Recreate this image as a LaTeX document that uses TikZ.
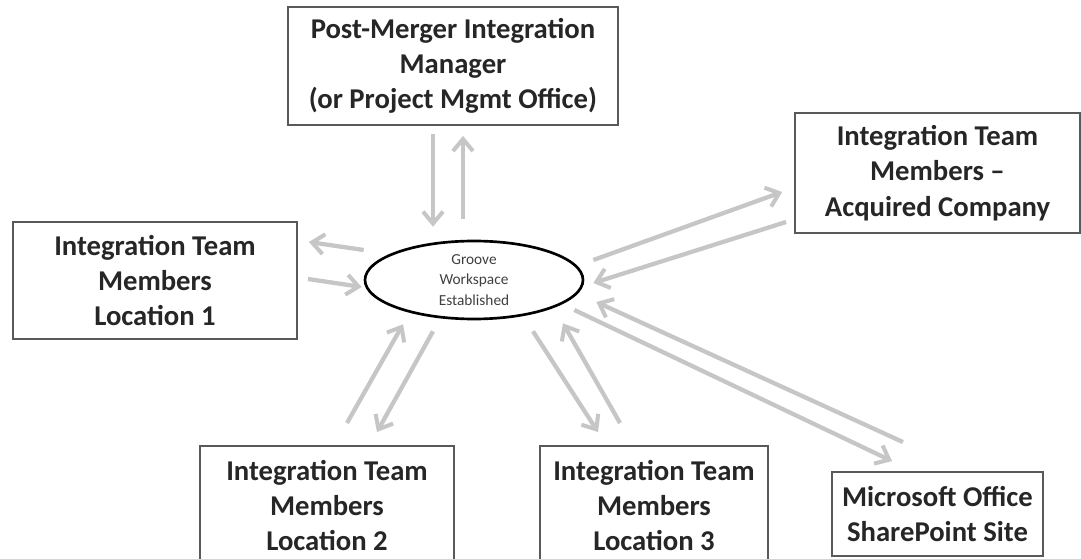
\documentclass[tikz,border=0pt]{standalone}
\usepackage{fontspec}
\setmainfont{Carlito}
\usetikzlibrary{arrows.meta,calc,shapes.geometric}
\begin{document}
\begin{tikzpicture}[x=0.75pt,y=-0.75pt,
  box/.style={draw=black!65, line width=1.4pt, align=center, font=\bfseries\fontsize{21.5}{26.5}\selectfont, text=black!85, inner sep=0pt},
  hub/.style={draw=black, line width=2pt, ellipse, inner sep=0pt, align=center, font=\fontsize{11.5}{15.5}\selectfont, text=black!75},
  flow/.style={draw=gray!45, line width=3.2pt, -{Straight Barb[length=9pt,width=15pt,line width=3pt]}}
]
\useasboundingbox (0,0) rectangle (1081,559);
\path[fill=white] (0,0) rectangle (1081,559);
% boxes
\node[box, minimum width=247.5pt, minimum height=88.5pt] (pm) at (453,66) {Post-Merger Integration\\Manager\\(or Project Mgmt Office)};
\node[box, minimum width=213pt, minimum height=87.75pt] (l1) at (155,280.5) {Integration Team\\Members\\Location 1};
\node[box, minimum width=213.75pt, minimum height=90pt] (aq) at (937.5,173) {Integration Team\\Members --\\Acquired Company};
\node[box, minimum width=190.5pt, minimum height=89.25pt, anchor=north] (l2) at (327,445) {Integration Team\\Members\\Location 2};
\node[box, minimum width=171pt, minimum height=89.25pt, anchor=north] (l3) at (654,445) {Integration Team\\Members\\Location 3};
\node[box, minimum width=158.25pt, minimum height=63pt] (sp) at (937.5,514) {Microsoft Office\\SharePoint Site};
% hub
\node[hub, minimum width=163.5pt, minimum height=58.5pt] (g) at (474,280) {Groove\\Workspace\\Established};
% connectors
\draw[flow] ($(pm.south)+(-20,8)$) -- ($(g.north)+(-41,-13)$);
\draw[flow] ($(g.north)+(-11,-21)$) -- ($(pm.south)+(10,10)$);
\draw[flow] ($(g.west)+(0,-30)$) -- ($(l1.east)+(11,-38.5)$);
\draw[flow] ($(l1.east)+(10,-1.5)$) -- ($(g.west)+(-2,7)$);
\draw[flow] ($(l2.north)+(20,-22)$) -- ($(g.south)+(-71,4)$);
\draw[flow] ($(g.south)+(-41,11)$) -- ($(l2.north)+(50,-13)$);
\draw[flow] ($(g.south)+(59,11)$) -- ($(l3.north)+(-56,-13)$);
\draw[flow] ($(l3.north)+(-34,-22)$) -- ($(g.south)+(89,3)$);
\draw[flow] ($(g.east)+(-10,30)$) -- ($(sp.north)+(-45.5,-10)$);
\draw[flow] ($(sp.north)+(-34.5,-29)$) -- ($(g.east)+(12,22)$);
\draw[flow] ($(g.east)+(9,-20)$) -- ($(aq.west)+(-12,19)$);
\draw[flow] ($(aq.west)+(-8,49)$) -- ($(g.east)+(9,3)$);
\end{tikzpicture}
\end{document}
